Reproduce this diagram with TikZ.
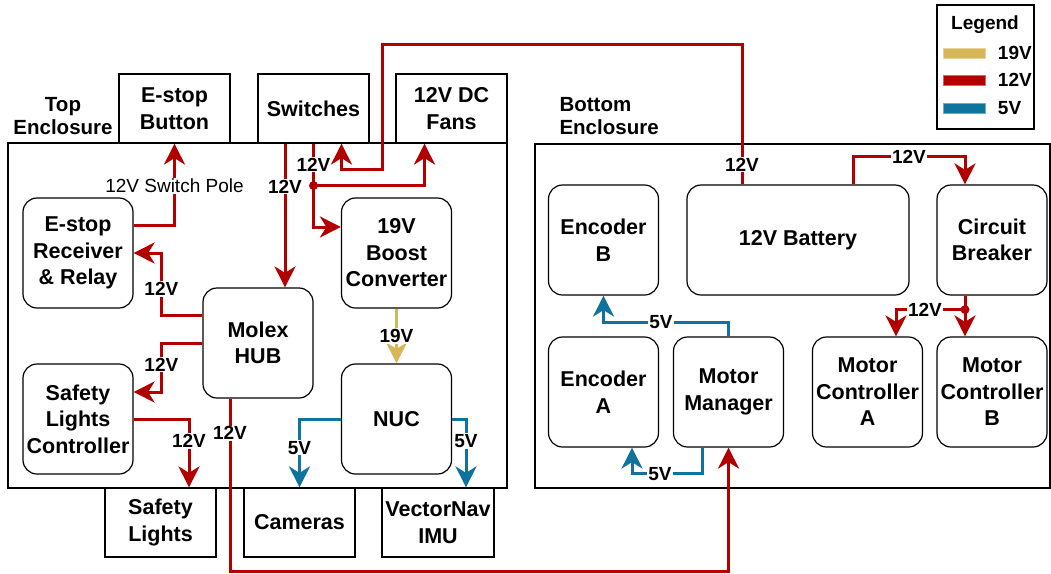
\documentclass[tikz,border=0pt]{standalone}
\usepackage{fontspec}
\setmainfont{Liberation Sans}
\usetikzlibrary{arrows.meta,positioning,calc}
\definecolor{wire19}{HTML}{D6B656}
\definecolor{wire12}{HTML}{B20000}
\definecolor{wire5}{HTML}{10739E}
\newcommand\unitfont{\fontsize{21.5}{26.5}\selectfont\bfseries}
\newcommand\headfont{\fontsize{20.5}{23}\selectfont\bfseries}
\newcommand\voltfont{\fontsize{19}{19}\selectfont\bfseries}

\begin{document}
\begin{tikzpicture}[x=1pt, y=-1pt,
    enclosure/.style={rectangle, draw, line width=1.2pt, inner sep=0pt},
    device/.style={rectangle, draw, fill=white, line width=1.2pt, minimum width=111pt, minimum height=69pt, align=center, font=\unitfont},
    unit/.style={rectangle, rounded corners=14pt, draw, line width=1.2pt, minimum width=110pt, minimum height=110pt, align=center, font=\unitfont},
    title/.style={align=center, font=\headfont},
    volt/.style={fill=white, inner sep=1pt, font=\voltfont},
    tip/.style={-{Stealth[length=21pt, width=21pt, inset=6.5pt]}},
    line12/.style={draw=wire12, line width=3pt},
    arrow12/.style={line12, tip},
    arrow19/.style={draw=wire19, line width=3pt, tip},
    arrow5/.style={draw=wire5, line width=3pt, tip},
    swatch/.style={rectangle, minimum width=42pt, minimum height=10pt, inner sep=0pt, line width=0.8pt},
    legtext/.style={font=\fontsize{19}{19}\selectfont\bfseries}
]
\useasboundingbox (0,0) rectangle (1051,573);

% Enclosures
\node[enclosure, minimum width=499pt, minimum height=345pt] (topenc) at (257.5,315.5) {};
\node[enclosure, minimum width=515pt, minimum height=344pt] (botenc) at (792.5,316) {};
\node[title] (toplbl) at (63,116) {Top\\Enclosure};
\node[title, align=left, anchor=west] (botlbl) at (556,116) {Bottom\\Enclosure};

% Outside devices
\node[device] (ebtn) at (174.5,108.5) {E-stop\\Button};
\node[device] (sw) at (313.5,108.5) {Switches};
\node[device] (fans) at (451.5,108.5) {12V DC\\Fans};
\node[device] (slights) at (160.5,522.5) {Safety\\Lights};
\node[device] (cams) at (299.5,522.5) {Cameras};
\node[device] (imu) at (438,522.5) {VectorNav\\IMU};

% Top enclosure units
\node[unit] (relay) at (78,253) {E-stop\\Receiver\\\& Relay};
\node[unit] (boost) at (396.5,253) {19V\\Boost\\Converter};
\node[unit] (hub) at (258,343) {Molex\\HUB};
\node[unit] (slc) at (78,419) {Safety\\Lights\\Controller};
\node[unit] (nuc) at (396.5,419) {NUC};

% Bottom enclosure units
\node[unit] (encb) at (603.5,240) {Encoder\\B};
\node[unit, minimum width=222pt] (batt) at (798,240) {12V Battery};
\node[unit] (cb) at (992,240) {Circuit\\Breaker};
\node[unit] (enca) at (603.5,392) {Encoder\\A};
\node[unit] (mm) at (728.5,392) {Motor\\Manager};
\node[unit] (mca) at (867.5,392) {Motor\\Controller\\A};
\node[unit] (mcb) at (992,392) {Motor\\Controller\\B};

% Legend
\node[enclosure, minimum width=97pt, minimum height=124pt] (legend) at (985.5,67) {};
\node[legtext] (legtitle) at (985,25) {Legend};
\node[swatch, fill=wire19, draw=wire19!60] (key19) at (964,53) {};
\node[swatch, fill=wire12, draw=wire12!60] (key12) at (964,80) {};
\node[swatch, fill=wire5, draw=wire5!60] (key5) at (964,108) {};
\node[legtext, right=9pt of key19] {19V};
\node[legtext, right=9pt of key12] {12V};
\node[legtext, right=9pt of key5] {5V};

% Junctions
\coordinate (swdot) at ([yshift=-42pt]sw.south);
\coordinate (cbdot) at ([xshift=-27pt, yshift=-14pt]cb.south);

% 12V wiring
\draw[arrow12] ([xshift=-56pt]batt.north) -- ++(0,-140) node[volt, pos=0.14] {12V}
    -- ++(-360,0) -- ++(0,125) -| ([xshift=28pt]sw.south);
\draw[line12] (sw.south) -- (swdot) node[volt, midway] {12V};
\draw[arrow12] (swdot) -| ([xshift=-27pt]fans.south);
\draw[arrow12] (swdot) |- ([yshift=26pt]boost.west);
\fill[wire12] (swdot) circle (4.5pt);
\draw[arrow12] ([xshift=-28.5pt]sw.south) -- ([xshift=-28.5pt]sw.south |- hub.north) node[volt, pos=0.3] {12V};
\draw[arrow12] ([yshift=28pt]relay.east) -| (ebtn.south) node[volt, pos=0.74, font=\fontsize{19}{19}\selectfont] {12V Switch Pole};
\draw[arrow12] ([yshift=28pt]hub.west) -- ++(-41,0) |- (relay.east) node[volt, pos=0.21] {12V};
\draw[arrow12] (hub.west) -- ++(-41,0) |- ([yshift=27pt]slc.east) node[volt, pos=0.22] {12V};
\draw[arrow12] (slc.east) -| ([xshift=28.5pt]slights.north) node[volt, pos=0.66] {12V};
\draw[arrow12] ([xshift=-28pt]hub.south) -- ++(0,173) node[volt, pos=0.2] {12V} -| (mm.south);
\draw[arrow12] ([xshift=55pt]batt.north) -- ++(0,-28) -| ([xshift=-27pt]cb.north) node[volt, pos=0.25] {12V};
\draw[line12] ([xshift=-27pt]cb.south) -- (cbdot);
\draw[arrow12] (cbdot) -- ([xshift=-27pt]mcb.north);
\draw[arrow12] (cbdot) -| ([xshift=28.5pt]mca.north) node[volt, pos=0.29] {12V};
\fill[wire12] (cbdot) circle (4.5pt);

% 19V wiring
\draw[arrow19] (boost.south) -- (nuc.north) node[volt, midway] {19V};

% 5V wiring
\draw[arrow5] (nuc.west) -| (cams.north) node[volt, pos=0.71] {5V};
\draw[arrow5] (nuc.east) -| ([xshift=28pt]imu.north) node[volt, pos=0.66] {5V};
\draw[arrow5] (mm.north) -- ++(0,-14) -| (encb.south) node[volt, pos=0.27] {5V};
\draw[arrow5] ([xshift=-26.5pt]mm.south) -- ++(0,26) -| ([xshift=28.5pt]enca.south) node[volt, pos=0.3] {5V};

\end{tikzpicture}
\end{document}
